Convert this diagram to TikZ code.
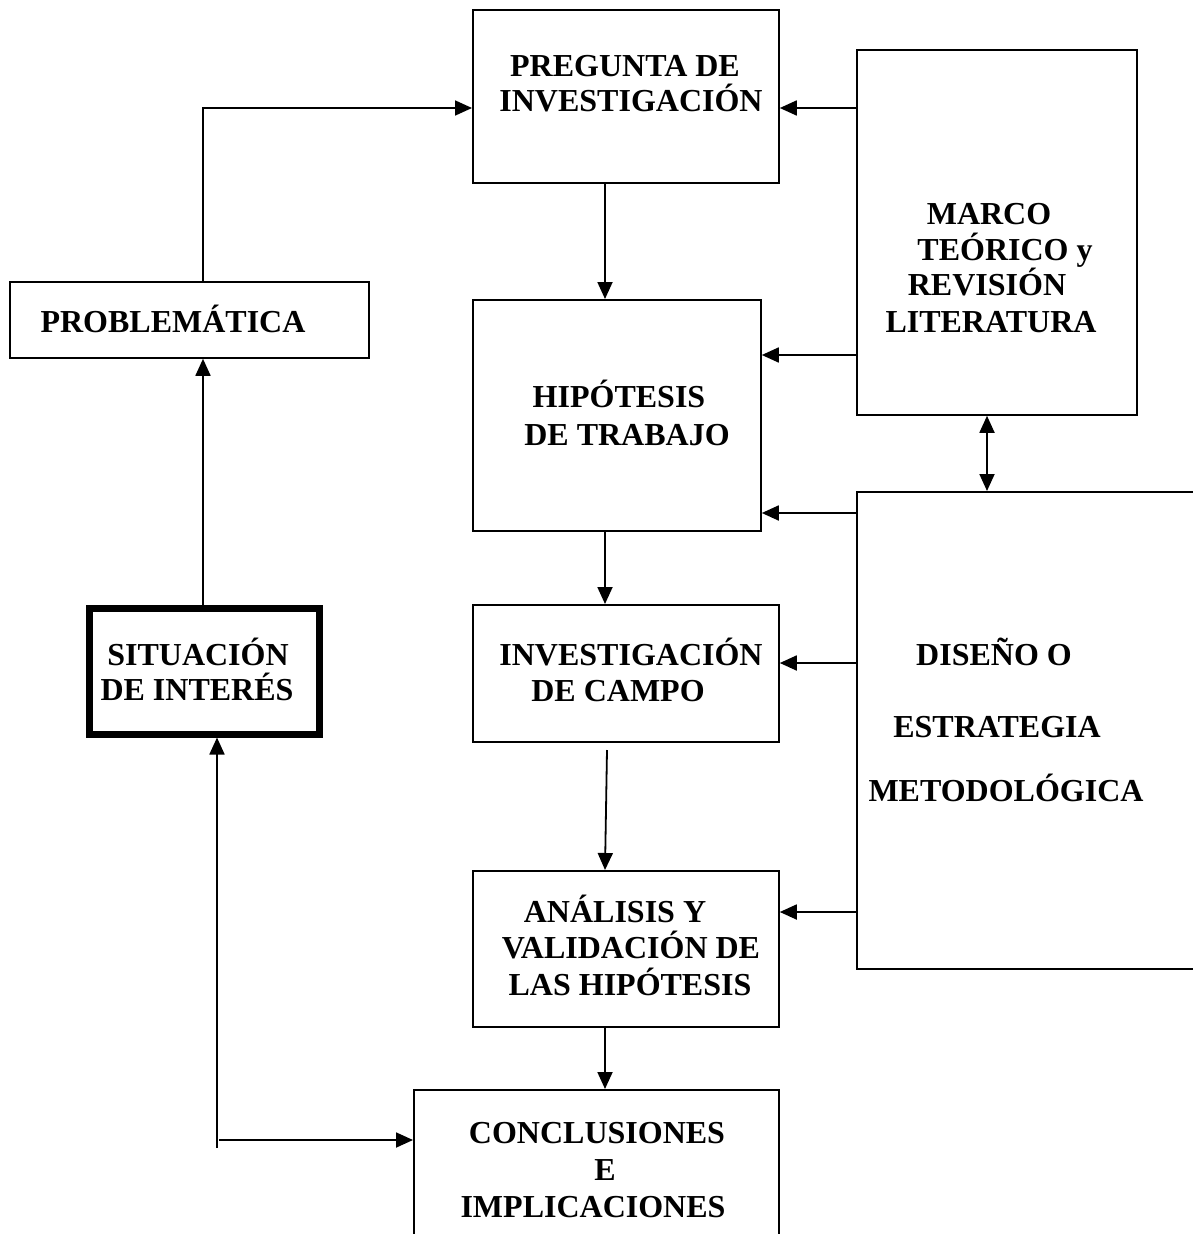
\documentclass[tikz,border=0pt]{standalone}
\usepackage{fontspec}
\setmainfont{Liberation Serif}
\usetikzlibrary{arrows.meta}
\begin{document}
\begin{tikzpicture}[x=1pt,y=1pt,
  box/.style={draw, line width=1.8pt, inner sep=0pt, anchor=north west},
  thickbox/.style={draw, line width=6.5pt, inner sep=0pt, anchor=north west},
  txt/.style={anchor=base, inner sep=0pt, font=\bfseries\fontsize{32}{37}\selectfont},
  arr/.style={line width=1.8pt, -{Triangle[length=17pt,width=15pt]}},
  darr/.style={line width=1.8pt, {Triangle[length=17pt,width=15pt]}-{Triangle[length=17pt,width=15pt]}}]
\useasboundingbox (0,0) rectangle (1192,-1234);
% boxes
\node[box, minimum width=306pt, minimum height=173pt] (pq) at (472,-9) {};
\node[box, minimum width=359pt, minimum height=76pt] (prob) at (9,-281) {};
\node[box, minimum width=280pt, minimum height=365pt] (mar) at (856,-49) {};
\node[box, minimum width=288pt, minimum height=231pt] (hip) at (472,-299) {};
\node[box, minimum width=400pt, minimum height=477pt] (dis) at (856,-491) {};
\node[box, minimum width=306pt, minimum height=137pt] (inv) at (472,-604) {};
\node[box, minimum width=306pt, minimum height=156pt] (ana) at (472,-870) {};
\node[box, minimum width=365pt, minimum height=180pt] (con) at (413,-1089) {};
\node[thickbox, minimum width=230pt, minimum height=126pt] (sit) at (86,-605) {};
% texts
\node[txt] (pq1) at (625,-76.5) {PREGUNTA DE};
\node[txt] (pq2) at (631,-111.5) {INVESTIGACIÓN};
\node[txt] (pr1) at (173,-332.5) {PROBLEMÁTICA};
\node[txt] (mr1) at (989,-224.5) {MARCO};
\node[txt] (mr2) at (1005,-260.5) {TEÓRICO y};
\node[txt] (mr3) at (987,-295.5) {REVISIÓN};
\node[txt] (mr4) at (991,-332.5) {LITERATURA};
\node[txt] (hp1) at (619,-407.5) {HIPÓTESIS};
\node[txt] (hp2) at (627,-445.5) {DE TRABAJO};
\node[txt] (st1) at (198,-665.5) {SITUACIÓN};
\node[txt] (st2) at (197,-700.5) {DE INTERÉS};
\node[txt] (iv1) at (631,-665.5) {INVESTIGACIÓN};
\node[txt] (iv2) at (618,-701.5) {DE CAMPO};
\node[txt] (ds1) at (994,-665.5) {DISEÑO O};
\node[txt] (ds2) at (997,-737.5) {ESTRATEGIA};
\node[txt] (ds3) at (1006,-801.5) {METODOLÓGICA};
\node[txt] (an1) at (615,-922.5) {ANÁLISIS Y};
\node[txt] (an2) at (631,-958.5) {VALIDACIÓN DE};
\node[txt] (an3) at (630,-995.5) {LAS HIPÓTESIS};
\node[txt] (cn1) at (597,-1143.5) {CONCLUSIONES};
\node[txt] (cn2) at (605,-1180.5) {E};
\node[txt] (cn3) at (593,-1217.5) {IMPLICACIONES};
% helper coordinates
\coordinate (x203) at (203,0);
\coordinate (x605) at (605,0);
\coordinate (x987) at (987,0);
\coordinate (y108) at (0,-108);
\coordinate (y355) at (0,-355);
\coordinate (y513) at (0,-513);
\coordinate (y663) at (0,-663);
\coordinate (y912) at (0,-912);
\coordinate (c0) at (217,-1148);
\coordinate (c1) at (219,-1140);
\coordinate (i0) at (607,-750);
% connectors
\draw[arr] (prob.north -| x203) |- (pq.west |- y108);
\draw[arr] (sit.north -| x203) -- (prob.south -| x203);
\draw[arr] (c0) -- (c0 |- sit.south);
\draw[arr] (c1) -- (c1 -| con.west);
\draw[arr] (pq.south -| x605) -- (hip.north -| x605);
\draw[arr] (hip.south -| x605) -- (inv.north -| x605);
\draw[arr] (i0) -- (ana.north -| x605);
\draw[arr] (ana.south -| x605) -- (con.north -| x605);
\draw[arr] (mar.west |- y108) -- (pq.east |- y108);
\draw[arr] (mar.west |- y355) -- (hip.east |- y355);
\draw[arr] (dis.west |- y513) -- (hip.east |- y513);
\draw[arr] (dis.west |- y663) -- (inv.east |- y663);
\draw[arr] (dis.west |- y912) -- (ana.east |- y912);
\draw[darr] (mar.south -| x987) -- (dis.north -| x987);
\end{tikzpicture}
\end{document}
